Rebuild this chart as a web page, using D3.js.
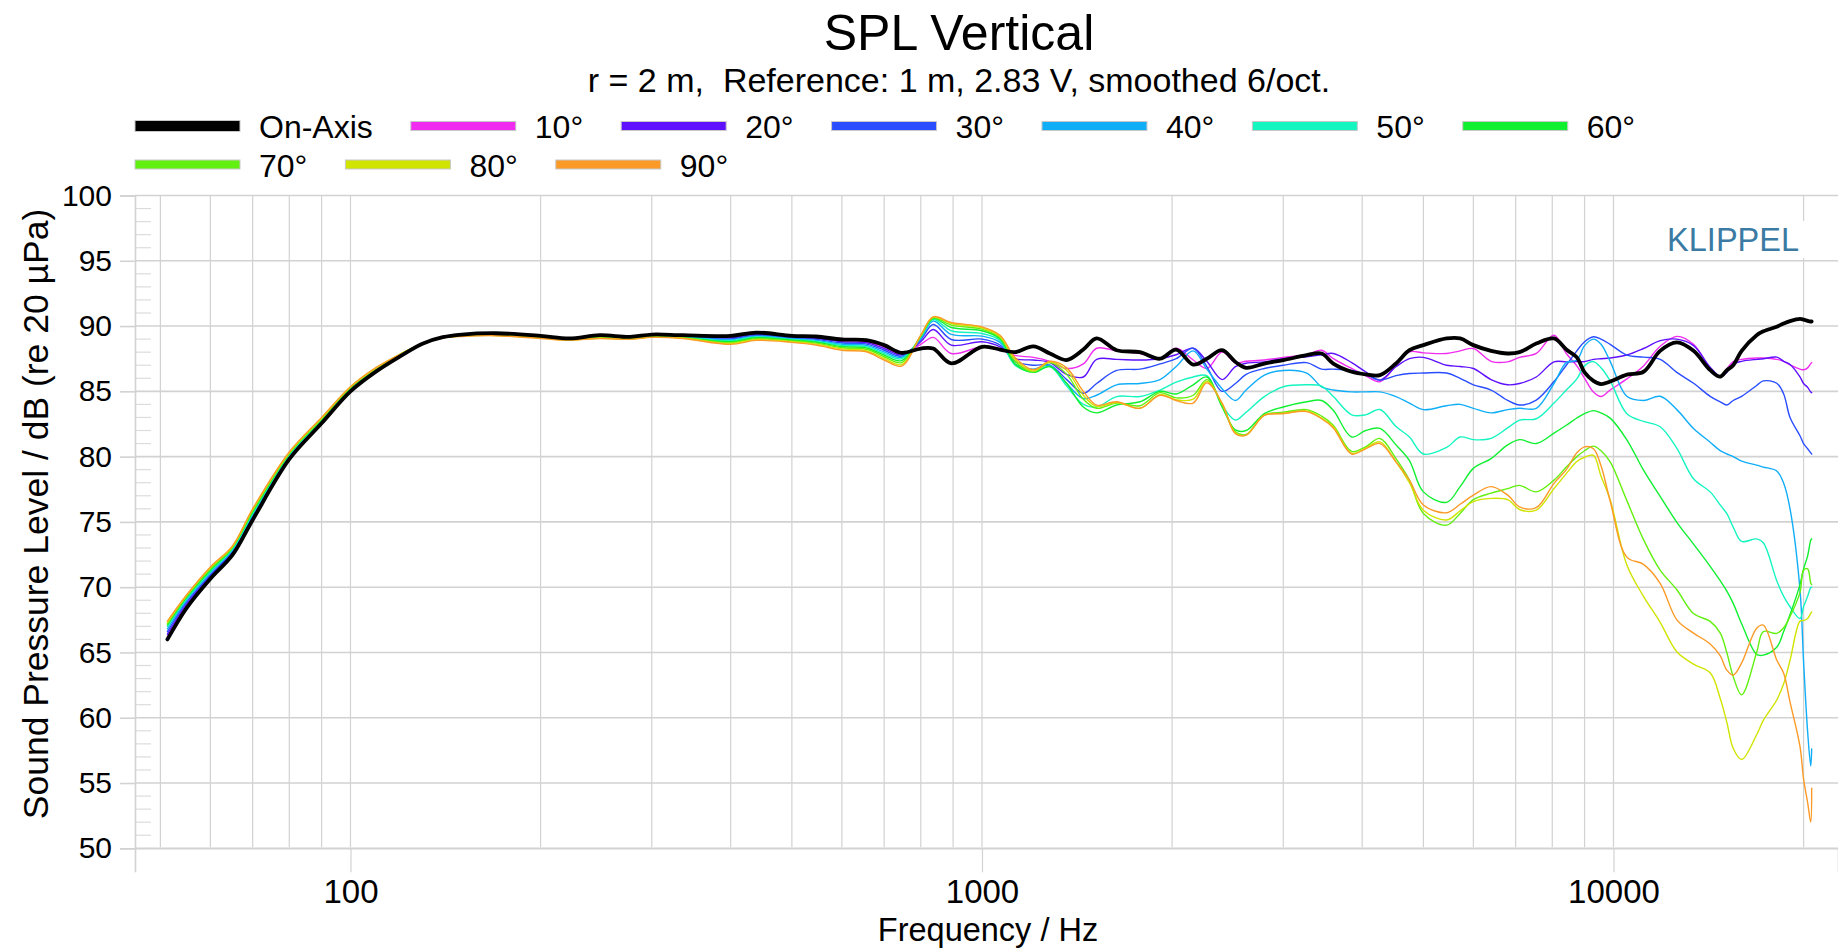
<!DOCTYPE html>
<html><head><meta charset="utf-8">
<script src="https://cdn.jsdelivr.net/npm/d3@7"></script>
<style>
body{margin:0;background:#fff;}
svg{display:block;}
text{font-family:"Liberation Sans", Arial, Helvetica, sans-serif;}
</style>
</head><body>
<svg id="chart" width="1838" height="949"></svg>
<script>
// ---------- DATA ----------
const titleText = "SPL Vertical";
const subtitleText = "r = 2 m,  Reference: 1 m, 2.83 V, smoothed 6/oct.";
const xAxisLabel = "Frequency / Hz";
const yAxisLabel = "Sound Pressure Level / dB (re 20 µPa)";
const watermark = "KLIPPEL";

const seriesNames = ["On-Axis","10°","20°","30°","40°","50°","60°","70°","80°","90°"];
const seriesColors = ["#000000","#f02cf0","#5f11ff","#2a4dff","#11aef8","#15f5c0","#10f030","#62f010","#d0e400","#fb9a26"];

const yTickValues = [50,55,60,65,70,75,80,85,90,95,100];
const xTickValues = [100,1000,10000];
const xGridValues = [50,60,70,80,90,100,200,300,400,500,600,700,800,900,1000,2000,3000,4000,5000,6000,7000,8000,9000,10000,20000];

const freqs = [51.3,55,60,65,70,80,90,100,110,120,130,140,150,170,200,222,248,277,300,336,400,439,500,546,600,656,700,746,800,837,894,1000,1068,1128,1206,1281,1362,1447,1519,1634,1779,1914,2030,2160,2270,2400,2520,2620,2800,3000,3267,3450,3600,3850,4050,4268,4525,4752,5000,5442,5717,6000,6400,6800,7100,7546,8050,8420,8750,9000,9296,9556,9880,10500,11157,11855,12600,13390,14228,14755,15120,15475,15958,16855,17270,18135,18600,19037,19740,20000,20300,20530,20600];

const onAxis = [66.0,68.4,70.65,72.45,75.15,79.8,82.55,85.0,86.55,87.7,88.65,89.15,89.35,89.45,89.25,89.05,89.3,89.17,89.35,89.3,89.25,89.5,89.25,89.2,88.97,88.92,88.54,87.95,88.28,88.28,87.14,88.41,88.2,88.0,88.45,87.9,87.4,88.2,89.05,88.15,88.0,87.5,88.2,87.05,87.5,88.15,87.25,86.8,87.13,87.39,87.77,87.9,87.13,86.5,86.3,86.24,87.13,88.15,88.54,89.05,89.05,88.54,88.1,87.9,88.0,88.66,89.05,88.2,87.6,86.45,85.8,85.55,85.75,86.28,86.5,88.1,88.75,88.1,86.62,86.12,86.62,87.0,88.1,89.3,89.6,89.95,90.2,90.38,90.55,90.5,90.4,90.35,90.35];
const deg10 = [66.2,68.55,70.75,72.55,75.25,79.85,82.6,85.05,86.6,87.7,88.65,89.15,89.33,89.42,89.22,89.03,89.27,89.15,89.32,89.27,89.18,89.43,89.2,89.12,88.88,88.82,88.4,87.9,88.6,89.13,87.9,88.41,88.21,87.75,87.6,87.3,86.75,87.1,88.3,88.1,87.9,87.5,88.3,87.4,86.75,88.0,87.2,87.3,87.4,87.6,87.8,88.15,87.5,86.75,86.2,85.73,87.0,88.03,87.95,87.9,88.1,88.28,87.3,87.26,87.6,87.9,89.3,87.9,86.95,86.0,84.95,84.6,85.1,85.95,86.95,88.45,89.21,88.6,86.75,86.12,86.72,87.28,87.45,87.55,87.55,87.45,87.3,87.02,86.7,86.65,86.8,87.12,87.2];
const deg20 = [66.4,68.7,70.85,72.65,75.35,79.95,82.65,85.1,86.65,87.75,88.66,89.15,89.32,89.4,89.2,89.01,89.24,89.13,89.3,89.24,89.1,89.36,89.14,89.05,88.79,88.72,88.28,87.8,88.8,89.74,88.54,88.8,88.41,87.5,87.4,87.2,86.3,86.1,87.45,87.45,87.4,87.5,87.8,88.3,87.3,85.9,86.9,87.15,87.26,87.5,87.65,87.8,87.9,87.2,86.5,85.86,86.88,87.5,87.6,87.0,86.9,86.75,85.9,85.5,85.6,86.1,87.26,87.26,87.28,87.28,87.45,87.5,87.55,87.78,88.28,88.88,89.0,88.5,86.85,86.15,86.45,87.1,87.3,87.45,87.5,87.62,87.3,87.05,86.1,85.6,85.3,84.95,84.9];
const deg30 = [66.6,68.85,70.95,72.75,75.45,80.0,82.7,85.15,86.65,87.75,88.66,89.15,89.3,89.38,89.18,89.0,89.2,89.1,89.27,89.2,89.02,89.3,89.08,88.98,88.7,88.62,88.15,87.7,88.95,90.12,88.97,89.0,88.55,87.3,87.0,87.0,85.9,84.85,85.6,86.6,86.7,87.1,87.5,88.3,86.9,85.0,85.6,86.3,86.75,87.0,87.2,86.7,86.7,86.6,86.3,85.86,86.2,86.37,86.4,86.4,86.0,85.5,85.1,84.3,83.95,84.33,85.75,87.0,88.1,88.8,89.18,89.0,88.6,87.78,87.62,87.45,86.45,85.62,84.62,84.2,83.95,84.3,84.62,85.45,85.8,85.62,84.8,83.0,81.6,81.0,80.6,80.29,80.2];
const deg40 = [66.8,69.0,71.1,72.85,75.55,80.1,82.75,85.2,86.7,87.8,88.66,89.12,89.3,89.36,89.16,88.98,89.17,89.08,89.24,89.17,88.95,89.23,89.02,88.9,88.61,88.52,88.02,87.6,89.05,90.38,89.36,89.23,88.75,87.1,86.7,87.0,85.6,84.45,84.7,85.5,85.6,85.9,86.9,88.1,86.7,85.2,84.3,85.1,86.24,86.6,86.4,85.35,85.1,84.96,84.96,84.96,84.6,84.1,83.6,83.9,84.0,83.7,83.35,83.6,83.7,83.7,85.6,87.2,87.4,88.5,89.0,88.6,87.3,84.62,84.3,84.62,83.6,82.15,81.1,80.46,80.2,80.0,79.65,79.35,79.2,78.9,77.96,76.0,69.8,64.3,58.9,56.3,57.6];
const deg50 = [67.0,69.1,71.2,72.9,75.65,80.15,82.8,85.25,86.75,87.8,88.67,89.12,89.28,89.34,89.14,88.97,89.14,89.06,89.21,89.14,88.88,89.16,88.97,88.83,88.52,88.42,87.9,87.5,89.15,90.5,89.64,89.43,88.9,87.0,86.5,86.9,85.4,84.0,83.8,84.6,84.6,85.1,85.7,86.1,86.2,83.95,82.8,83.4,84.6,85.35,85.5,85.4,84.6,83.2,83.2,83.61,82.3,81.5,80.2,80.7,81.5,81.3,81.4,82.2,82.8,82.9,84.1,85.1,85.95,86.95,87.28,86.8,85.8,83.29,82.7,82.29,80.63,78.3,77.3,76.3,75.63,74.6,73.5,73.7,73.4,70.5,69.3,68.5,67.6,68.5,69.3,69.97,70.0];
const deg60 = [67.1,69.2,71.3,73.0,75.75,80.2,82.85,85.25,86.75,87.8,88.67,89.1,89.27,89.32,89.12,88.96,89.12,89.04,89.19,89.11,88.8,89.1,88.91,88.76,88.43,88.32,87.78,87.35,89.2,90.58,89.89,89.64,89.02,87.1,86.45,86.9,85.6,83.8,83.35,83.95,84.2,85.0,84.8,85.5,86.1,83.8,82.05,82.0,83.3,83.8,84.2,84.3,83.55,81.5,82.0,82.16,80.9,79.7,77.3,76.5,77.7,79.1,79.85,80.9,81.3,81.0,81.8,82.4,82.96,83.3,83.52,83.35,82.95,81.29,78.96,76.96,74.97,73.3,71.6,70.5,69.7,68.76,67.2,64.85,64.8,65.4,66.6,67.9,70.2,71.4,72.4,73.6,73.7];
const deg70 = [67.2,69.3,71.4,73.05,75.85,80.25,82.9,85.3,86.8,87.85,88.67,89.1,89.25,89.3,89.1,88.95,89.1,89.02,89.17,89.09,88.73,89.03,88.86,88.69,88.34,88.22,87.65,87.2,89.25,90.63,90.07,89.76,89.12,87.3,86.5,87.2,86.3,84.4,83.7,84.1,83.9,84.9,84.5,84.7,85.9,84.0,81.9,81.7,83.2,83.4,83.6,83.1,82.4,80.4,80.75,81.39,79.85,78.2,75.65,74.75,75.65,76.7,77.2,77.55,77.8,77.3,78.2,79.2,80.0,80.45,80.8,80.45,79.6,76.63,73.64,71.31,69.8,67.98,67.38,66.5,64.98,63.15,61.75,65.0,66.6,66.46,66.9,67.75,69.6,71.3,71.4,70.3,70.2];
const deg80 = [67.3,69.35,71.5,73.1,75.95,80.3,82.95,85.35,86.8,87.85,88.68,89.1,89.23,89.28,89.08,88.93,89.07,89.0,89.15,89.07,88.66,88.96,88.8,88.62,88.25,88.12,87.52,87.05,89.28,90.68,90.2,89.87,89.2,87.45,86.55,87.25,86.6,84.7,83.85,84.15,83.7,84.75,84.35,84.4,85.75,84.05,81.8,81.65,83.18,83.3,83.5,82.95,82.3,80.25,80.65,81.13,79.6,78.0,75.9,75.15,75.85,76.55,76.8,76.7,75.95,75.9,77.55,78.7,79.63,79.95,80.1,78.5,76.7,71.7,69.3,67.31,65.05,64.1,63.45,61.5,59.65,57.65,56.8,58.7,59.8,61.36,62.6,64.4,67.4,67.45,67.6,68.0,68.1];
const deg90 = [67.4,69.4,71.55,73.15,76.0,80.35,83.0,85.35,86.85,87.85,88.68,89.08,89.2,89.26,89.05,88.92,89.05,88.98,89.13,89.05,88.6,88.9,88.75,88.55,88.15,88.03,87.4,86.93,89.3,90.71,90.27,89.94,89.3,87.6,86.65,87.3,86.8,85.0,83.95,84.2,83.7,84.7,84.3,84.1,85.65,84.1,81.75,81.65,83.15,83.3,83.45,82.9,82.2,80.2,80.6,81.0,79.6,78.2,76.3,75.7,76.35,77.05,77.7,77.05,76.15,76.1,77.95,79.0,80.29,80.75,80.6,79.3,76.6,72.3,71.75,70.3,67.5,66.48,65.65,64.75,63.65,63.27,64.2,66.85,67.1,64.42,63.4,61.2,57.8,55.3,53.5,52.0,54.6];

const seriesValues = [onAxis,deg10,deg20,deg30,deg40,deg50,deg60,deg70,deg80,deg90];

// ---------- LAYOUT ----------
const plot = {left:135, right:1838, top:195.5, bottom:848.3};
const gridColor = "#d2d2d2";

const svg = d3.select("#chart");

const x = d3.scaleLog().domain([45.58, 22675]).range([plot.left, plot.right]);
const y = d3.scaleLinear().domain([50, 100]).range([plot.bottom, plot.top]);

// Titles
svg.append("text").attr("x", 959).attr("y", 50).attr("text-anchor","middle")
  .attr("font-size", 50).attr("fill","#000").text(titleText);
svg.append("text").attr("x", 959).attr("y", 92).attr("text-anchor","middle")
  .attr("font-size", 34).attr("fill","#000").style("white-space","pre").text(subtitleText);

// Legend
const legend = svg.append("g");
let lx = 135, ly = 126;
seriesNames.forEach((name, i) => {
  const g = legend.append("g");
  const t = g.append("text").attr("font-size", 32).attr("fill","#000")
    .attr("dominant-baseline","central").text(name);
  const tw = t.node().getComputedTextLength();
  const itemW = 105 + 19 + tw;
  if (lx + itemW > 1800) { lx = 135; ly += 38.5; }
  const h = i === 0 ? 11 : 9;
  g.insert("rect","text").attr("x", lx).attr("y", ly - h/2).attr("width", 105).attr("height", h)
    .attr("fill", seriesColors[i]).attr("stroke", "#c8c8c8").attr("stroke-width", 1);
  t.attr("x", lx + 124).attr("y", ly + 1);
  lx += itemW + 38;
});

// Grid: vertical lines
const gridG = svg.append("g");
gridG.selectAll("line.vg").data(xGridValues).join("line")
  .attr("x1", d => x(d)).attr("x2", d => x(d))
  .attr("y1", plot.top).attr("y2", plot.bottom - 1)
  .attr("stroke", gridColor).attr("stroke-width", 1.2);

// minor y ticks (every 1 dB) inside plot
const minorY = d3.range(51, 100).filter(v => v % 5 !== 0);
gridG.selectAll("line.my").data(minorY).join("line")
  .attr("x1", plot.left).attr("x2", plot.left + 16)
  .attr("y1", d => y(d)).attr("y2", d => y(d))
  .attr("stroke", "#dcdcdc").attr("stroke-width", 1.2);

// horizontal major gridlines
gridG.selectAll("line.hg").data(yTickValues).join("line")
  .attr("x1", plot.left).attr("x2", plot.right)
  .attr("y1", d => y(d)).attr("y2", d => y(d))
  .attr("stroke", gridColor).attr("stroke-width", 1.6);

// Y axis
const yAxis = d3.axisLeft(y).tickValues(yTickValues).tickSize(15).tickPadding(8).tickFormat(d3.format("d"));
const yg = svg.append("g").attr("transform", `translate(${plot.left},0)`).call(yAxis);
yg.select(".domain").attr("stroke", gridColor).attr("stroke-width", 1.6);
yg.selectAll(".tick line").attr("stroke", gridColor).attr("stroke-width", 1.6);
yg.selectAll(".tick text").attr("font-size", 30).attr("fill","#000")
  .attr("font-family", '"Liberation Sans", Arial, sans-serif');

// X axis
const xAxis = d3.axisBottom(x).tickValues(xTickValues).tickSize(24).tickPadding(7).tickFormat(d3.format("d"));
const xg = svg.append("g").attr("transform", `translate(0,${plot.bottom})`).call(xAxis);
xg.select(".domain").attr("stroke", gridColor).attr("stroke-width", 1.6);
xg.selectAll(".tick line").attr("stroke", gridColor).attr("stroke-width", 1.2);
xg.selectAll(".tick text").attr("font-size", 33).attr("fill","#000")
  .attr("font-family", '"Liberation Sans", Arial, sans-serif');

// Axis labels
svg.append("text").attr("x", 988).attr("y", 941).attr("text-anchor","middle")
  .attr("font-size", 32.5).attr("fill","#000").text(xAxisLabel);
svg.append("text").attr("transform","translate(48,514) rotate(-90)").attr("text-anchor","middle")
  .attr("font-size", 35.5).attr("fill","#000").text(yAxisLabel);

// Watermark with white background
svg.append("rect").attr("x", 1660).attr("y", 221).attr("width", 150).attr("height", 37).attr("fill", "#fff");
svg.append("text").attr("x", 1799).attr("y", 251).attr("text-anchor","end")
  .attr("font-size", 32.5).attr("fill","#3b7aa3").text(watermark);

// Curves
svg.append("clipPath").attr("id","plotClip").append("rect")
  .attr("x", plot.left).attr("y", plot.top).attr("width", plot.right - plot.left).attr("height", plot.bottom - plot.top);

const line = d3.line().x(d => x(d[0])).y(d => y(d[1])).curve(d3.curveCatmullRom.alpha(0.5));
const curvesG = svg.append("g").attr("clip-path","url(#plotClip)");
const order = [1,2,3,4,5,6,7,8,9,0];
order.forEach(i => {
  const pts = freqs.map((f, k) => [f, seriesValues[i][k]]);
  curvesG.append("path").datum(pts).attr("d", line)
    .attr("fill","none").attr("stroke", seriesColors[i])
    .attr("stroke-width", i === 0 ? 3.8 : 1.4)
    .attr("stroke-linejoin","round").attr("stroke-linecap","round");
});
</script>
</body></html>
